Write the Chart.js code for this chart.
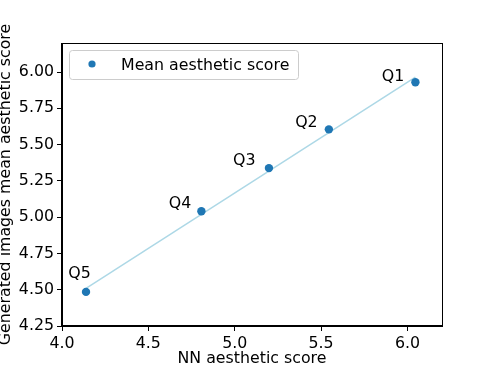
<!DOCTYPE html>
<html>
<head>
<meta charset="utf-8">
<script src="https://cdn.jsdelivr.net/npm/chart.js@4/dist/chart.umd.min.js"></script>
<style>
  body { margin: 0; background: #fff; }
  canvas { display: block; }
</style>
</head>
<body>
<canvas id="myChart" width="485" height="367"></canvas>
<script>
// values
const quantiles = ['Q1', 'Q2', 'Q3', 'Q4', 'Q5']
const nnScore = [6.046, 5.545, 5.198, 4.807, 4.139]
const genScore = [5.93, 5.605, 5.338, 5.041, 4.485]

// where each Q label sits (left edge / baseline, in data units)
const labelX = [5.851, 5.35, 4.99, 4.618, 4.036]
const labelY = [5.938, 5.62, 5.359, 5.06, 4.581]

// fitted line endpoints
const fitX = [4.139, 6.046]
const fitY = [4.51, 5.965]

const xTicks = [4.0, 4.5, 5.0, 5.5, 6.0]
const yTicks = [4.25, 4.5, 4.75, 5.0, 5.25, 5.5, 5.75, 6.0]

const FONT = 'DejaVu Sans'
const FSIZE = 15.8

Chart.defaults.font.family = FONT
Chart.defaults.font.size = FSIZE
Chart.defaults.color = '#000'

const points = nnScore.map((x, i) => ({x: x, y: genScore[i]}))
const fitLine = fitX.map((x, i) => ({x: x, y: fitY[i]}))

// frame round the plot, like matplotlib spines
const framePlugin = {
  id: 'frame',
  afterDraw(chart) {
    const a = chart.chartArea
    const ctx = chart.ctx
    ctx.save()
    ctx.strokeStyle = '#000'
    ctx.lineWidth = 1
    ctx.strokeRect(Math.round(a.left) - 0.5, Math.round(a.top) + 0.5,
      Math.round(a.right - a.left) + 1, Math.round(a.bottom - a.top) - 1)
    ctx.restore()
  }
}

// Q1..Q5 text next to each point
const labelPlugin = {
  id: 'qlabels',
  afterDatasetsDraw(chart) {
    const ctx = chart.ctx
    const xs = chart.scales.x, ys = chart.scales.y
    ctx.save()
    ctx.font = FSIZE + 'px ' + FONT
    ctx.fillStyle = '#000'
    ctx.textAlign = 'left'
    ctx.textBaseline = 'alphabetic'
    quantiles.forEach((q, i) => {
      ctx.fillText(q, xs.getPixelForValue(labelX[i]), ys.getPixelForValue(labelY[i]))
    })
    ctx.restore()
  }
}

// matplotlib style legend box in the upper left corner
const legendPlugin = {
  id: 'mplLegend',
  afterDraw(chart) {
    const ctx = chart.ctx
    const a = chart.chartArea
    const ds = chart.data.datasets[0]
    const x0 = a.left + 7, y0 = a.top + 7, w = 229, h = 29, r = 3
    ctx.save()
    ctx.beginPath()
    ctx.roundRect(x0 + 0.5, y0 + 0.5, w, h, r)
    ctx.fillStyle = 'rgba(255,255,255,0.8)'
    ctx.fill()
    ctx.strokeStyle = '#cccccc'
    ctx.lineWidth = 1
    ctx.stroke()
    ctx.beginPath()
    ctx.arc(x0 + 23, y0 + 14, 3.6, 0, Math.PI * 2)
    ctx.fillStyle = ds.backgroundColor
    ctx.fill()
    ctx.font = FSIZE + 'px ' + FONT
    ctx.fillStyle = '#000'
    ctx.textBaseline = 'alphabetic'
    ctx.fillText(ds.label, x0 + 52, y0 + 19.5)
    ctx.restore()
  }
}

const ctx = document.getElementById('myChart').getContext('2d')
const chart = new Chart(ctx, {
  type: 'scatter',
  data: {
    datasets: [{
      label: 'Mean aesthetic score',
      data: points,
      backgroundColor: '#1f77b4',
      borderColor: '#1f77b4',
      borderWidth: 0,
      pointRadius: 4.2,
      pointHoverRadius: 4.2
    }, {
      type: 'line',
      label: 'fit',
      data: fitLine,
      borderColor: '#add8e6',
      borderWidth: 1.5,
      pointRadius: 0,
      fill: false
    }]
  },
  options: {
    responsive: false,
    animation: false,
    devicePixelRatio: 1,
    layout: { padding: { top: 43, right: 43, left: 0, bottom: 0 } },
    plugins: {
      legend: { display: false },
      tooltip: { enabled: false }
    },
    scales: {
      x: {
        type: 'linear',
        min: 4.0,
        max: 6.2,
        afterFit: (s) => { s.height = 41 },
        afterBuildTicks: (s) => { s.ticks = xTicks.map(v => ({value: v})) },
        grid: { drawOnChartArea: false, drawTicks: true, tickLength: 5, color: '#000', tickColor: '#000' },
        border: { display: true, color: '#000', width: 1 },
        ticks: { padding: 3, maxRotation: 0, callback: (v) => Number(v).toFixed(1) },
        title: {
          display: true,
          text: 'NN aesthetic score',
          font: { size: FSIZE, lineHeight: 1 },
          padding: 0
        }
      },
      y: {
        type: 'linear',
        min: 4.25,
        max: 6.2,
        afterFit: (s) => { s.width = 62 },
        afterBuildTicks: (s) => { s.ticks = yTicks.map(v => ({value: v})) },
        grid: { drawOnChartArea: false, drawTicks: true, tickLength: 5, color: '#000', tickColor: '#000' },
        border: { display: true, color: '#000', width: 1 },
        ticks: { padding: 3, callback: (v) => Number(v).toFixed(2) },
        title: {
          display: true,
          text: 'Generated images mean aesthetic score',
          font: { size: FSIZE, lineHeight: 0.8 },
          padding: 0
        }
      }
    }
  },
  plugins: [framePlugin, labelPlugin, legendPlugin]
})
</script>
</body>
</html>
